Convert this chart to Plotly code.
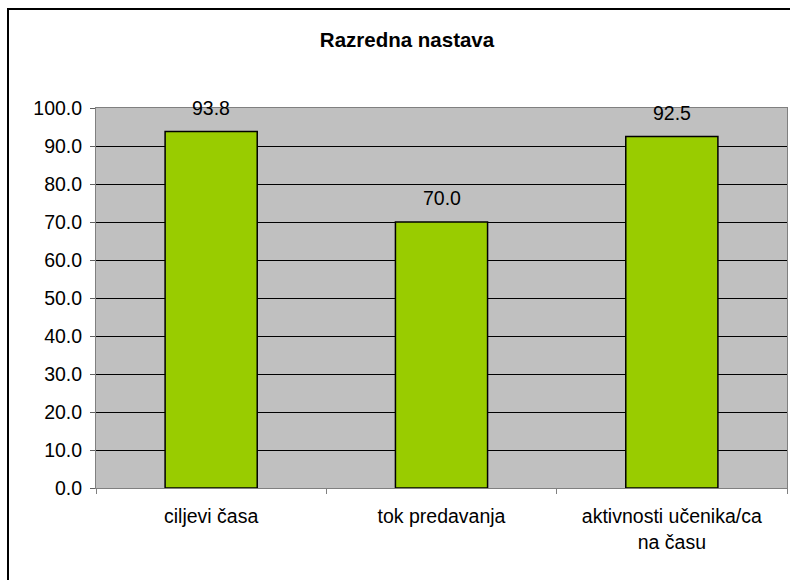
import plotly.graph_objects as go

categories = ["ciljevi časa", "tok predavanja", "aktivnosti učenika/ca<br>na času"]
values = [93.8, 70.0, 92.5]
title_text = "Razredna nastava"

W, H = 790, 580
ML, MR, MT, MB = 96, 3, 108, 92
pw = W - ML - MR
ph = H - MT - MB

font_family = "Liberation Sans, Arial, sans-serif"
FS = 19.5

fig = go.Figure()
fig.add_trace(go.Bar(
    x=categories, y=values,
    marker=dict(color="#99CC00", line=dict(color="#000000", width=1.5)),
    hoverinfo="skip",
))

for c, v in zip(categories, values):
    fig.add_annotation(x=c, y=v, text=f"{v:.1f}", showarrow=False,
                       yanchor="middle", yshift=24,
                       font=dict(size=FS, color="#000000", family=font_family))

# outer chart border
fig.add_shape(type="rect", xref="paper", yref="paper",
              x0=(8 - ML) / pw, x1=(W + 4 - ML) / pw,
              y0=-(H + 4 - (H - MB)) / ph, y1=(H - MB - 9) / ph,
              line=dict(color="#000000", width=2), fillcolor="rgba(0,0,0,0)",
              layer="below")

fig.update_layout(
    width=W, height=H,
    margin=dict(l=ML, r=MR, t=MT, b=MB),
    paper_bgcolor="#FFFFFF",
    plot_bgcolor="#C0C0C0",
    bargap=0.6,
    showlegend=False,
    font=dict(family=font_family, color="#000000", size=FS),
    title=dict(text=f"<b>{title_text}</b>", x=407 / W, xanchor="center",
               y=1 - 40 / H, yanchor="middle", xref="container", yref="container",
               font=dict(size=20.5, family=font_family, color="#000000")),
    xaxis=dict(
        tickson="boundaries", ticks="outside", ticklen=5, tickcolor="#808080",
        showline=True, linecolor="#808080", linewidth=1, mirror=True,
        showgrid=False, tickfont=dict(size=FS), ticklabelstandoff=11,
        fixedrange=True,
    ),
    yaxis=dict(
        range=[0, 100], dtick=10, tick0=0, tickformat=".1f",
        ticks="outside", ticklen=5, tickcolor="#606060",
        showline=True, linecolor="#808080", linewidth=1, mirror=True,
        showgrid=True, gridcolor="#000000", gridwidth=1,
        zeroline=False, tickfont=dict(size=FS), ticklabelstandoff=4,
        fixedrange=True,
    ),
)

fig.write_html("out.html",
               config={"displayModeBar": False, "staticPlot": True},
               post_script="document.body.style.margin='0';document.body.style.overflow='hidden';")
